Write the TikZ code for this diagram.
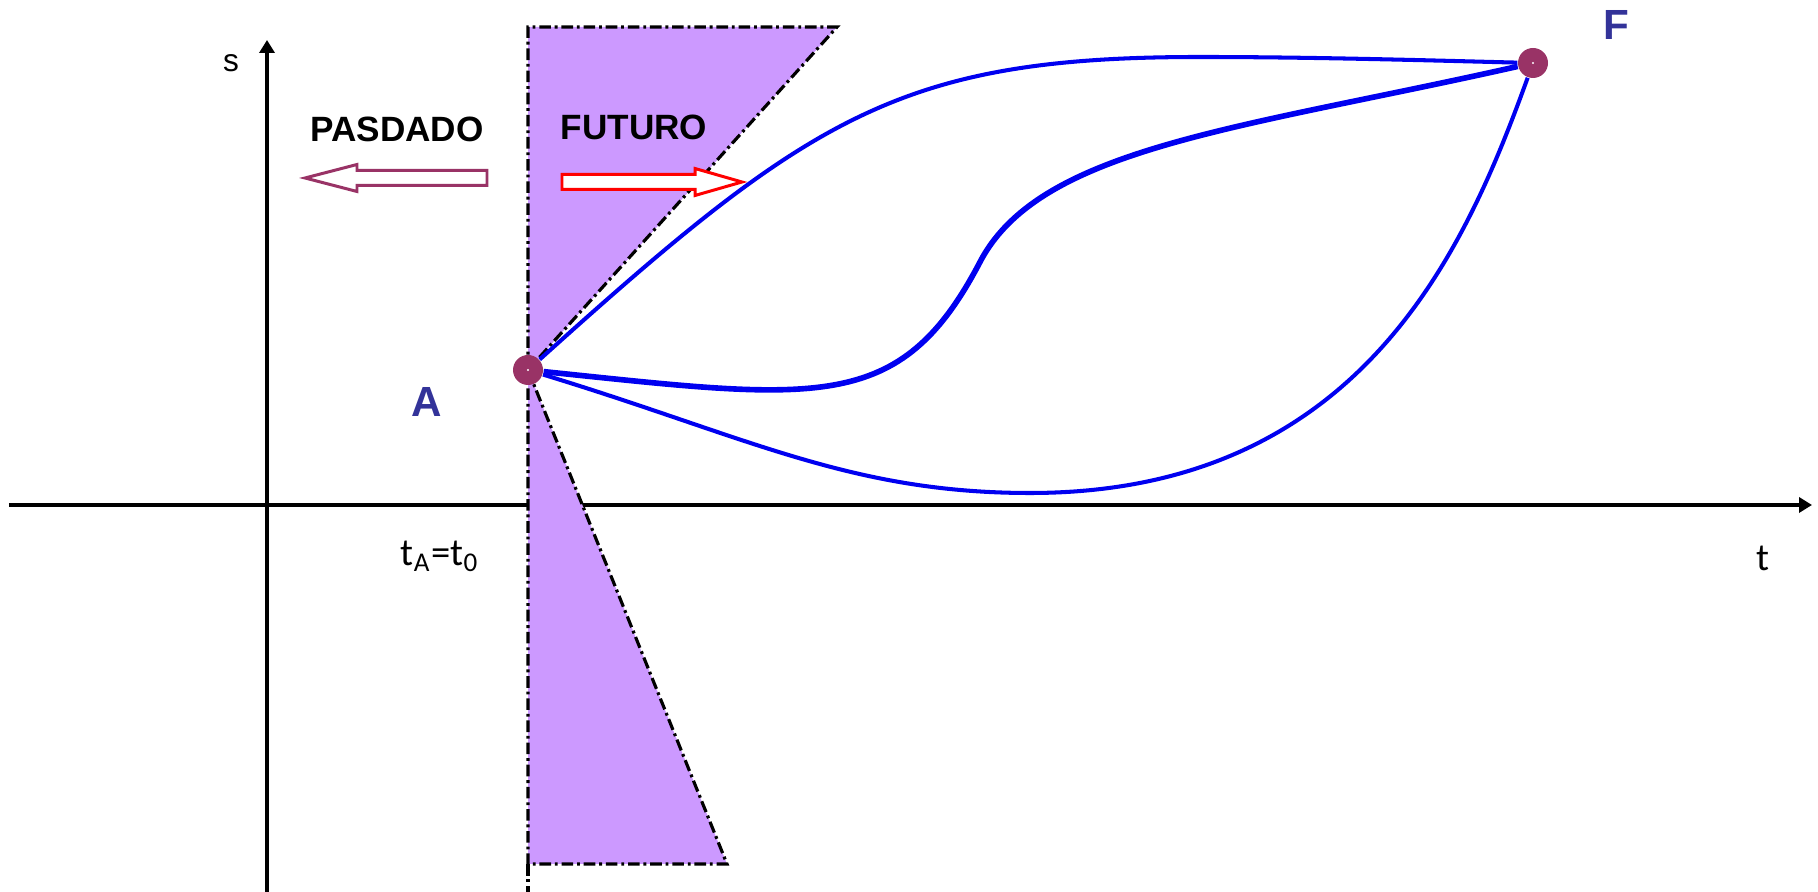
\documentclass[tikz,border=0pt]{standalone}
\usepackage{fontspec}
\setmainfont{Liberation Sans}
\newfontfamily\calibrifont{Carlito}
\usetikzlibrary{arrows.meta}

\definecolor{conecolor}{HTML}{CC99FF}
\definecolor{eventcolor}{HTML}{993366}
\definecolor{labelblue}{HTML}{333399}
\definecolor{lineblue}{HTML}{0000F0}

\begin{document}
\begin{tikzpicture}[
    >={Triangle[length=3.7pt,width=4.3pt]},
    axis/.style={->, line width=0.9pt},
    cone/.style={fill=conecolor, draw=black, line width=0.9pt,
        dash pattern=on 3.3pt off 1.1pt on 0.8pt off 1.1pt},
    event/.style={circle, fill=eventcolor, minimum size=0.30cm, inner sep=0pt},
    eventlabel/.style={font=\fontsize{12}{14}\selectfont\bfseries, text=labelblue},
    zone/.style={font=\fontsize{10}{12}\selectfont\bfseries},
    blockarrow/.style={fill=white, line width=0.85pt, line join=miter},
    worldline/.style={lineblue, line width=1.15pt}
]
\useasboundingbox (0,0) rectangle (18.18,8.92);

% axes
\draw[axis] (2.67,0) -- (2.67,8.52);
\draw[axis] (0.09,3.87) -- (18.12,3.87);
\node[font=\fontsize{9}{11}\selectfont] (labs) at (2.31,8.29) {s};
\node[font=\calibrifont\fontsize{11}{13}\selectfont] (labt) at (17.63,3.34) {t};
\node[font=\calibrifont\fontsize{11}{13}\selectfont] (labtzero) at (4.40,3.36) {t\textsubscript{A}=t\textsubscript{0}};

% light cone at A
\coordinate (apex) at (5.28,5.22);
\filldraw[cone] (apex) -- (5.28,8.65) -- (8.37,8.65) -- cycle;
\filldraw[cone] (apex) -- (7.27,0.28) -- (5.28,0.28) -- cycle;
\draw[cone, fill=none] (5.28,0.28) -- (5.28,0);

% past / future
\node[zone] (pasado) at (3.97,7.63) {PASDADO};
\node[zone] (futuro) at (6.34,7.65) {FUTURO};
\draw[blockarrow, draw=eventcolor] (3.05,7.14) -- ++(0.52,0.135) -- ++(0,-0.06) -- ++(1.30,0)
    -- ++(0,-0.15) -- ++(-1.30,0) -- ++(0,-0.06) -- cycle;
\draw[blockarrow, draw=red] (7.42,7.10) -- ++(-0.47,0.135) -- ++(0,-0.06) -- ++(-1.33,0)
    -- ++(0,-0.15) -- ++(1.33,0) -- ++(0,-0.06) -- cycle;

% events
\node[event] (evA) at (apex) {};
\node[event] (evF) at (15.33,8.29) {};
\fill[white] (evA) circle (0.012);
\fill[white] (evF) circle (0.012);
\node[eventlabel] (labA) at (4.27,4.90) {A};
\node[eventlabel] (labF) at (16.16,8.67) {F};

% world lines from A to F
\draw[worldline] (evA) .. controls (8.10,7.76) and (9.00,8.35) .. (12.00,8.35)
    .. controls (13.20,8.35) and (14.50,8.31) .. (evF);
\draw[worldline, line width=1.6pt] (evA) .. controls (8.18,4.92) and (9.00,4.77) .. (9.80,6.30)
    .. controls (10.40,7.45) and (12.40,7.63) .. (evF);
\draw[worldline] (evA) .. controls (7.48,4.55) and (8.50,3.99) .. (10.30,3.99)
    .. controls (13.60,3.99) and (14.65,6.41) .. (evF);

\end{tikzpicture}
\end{document}
